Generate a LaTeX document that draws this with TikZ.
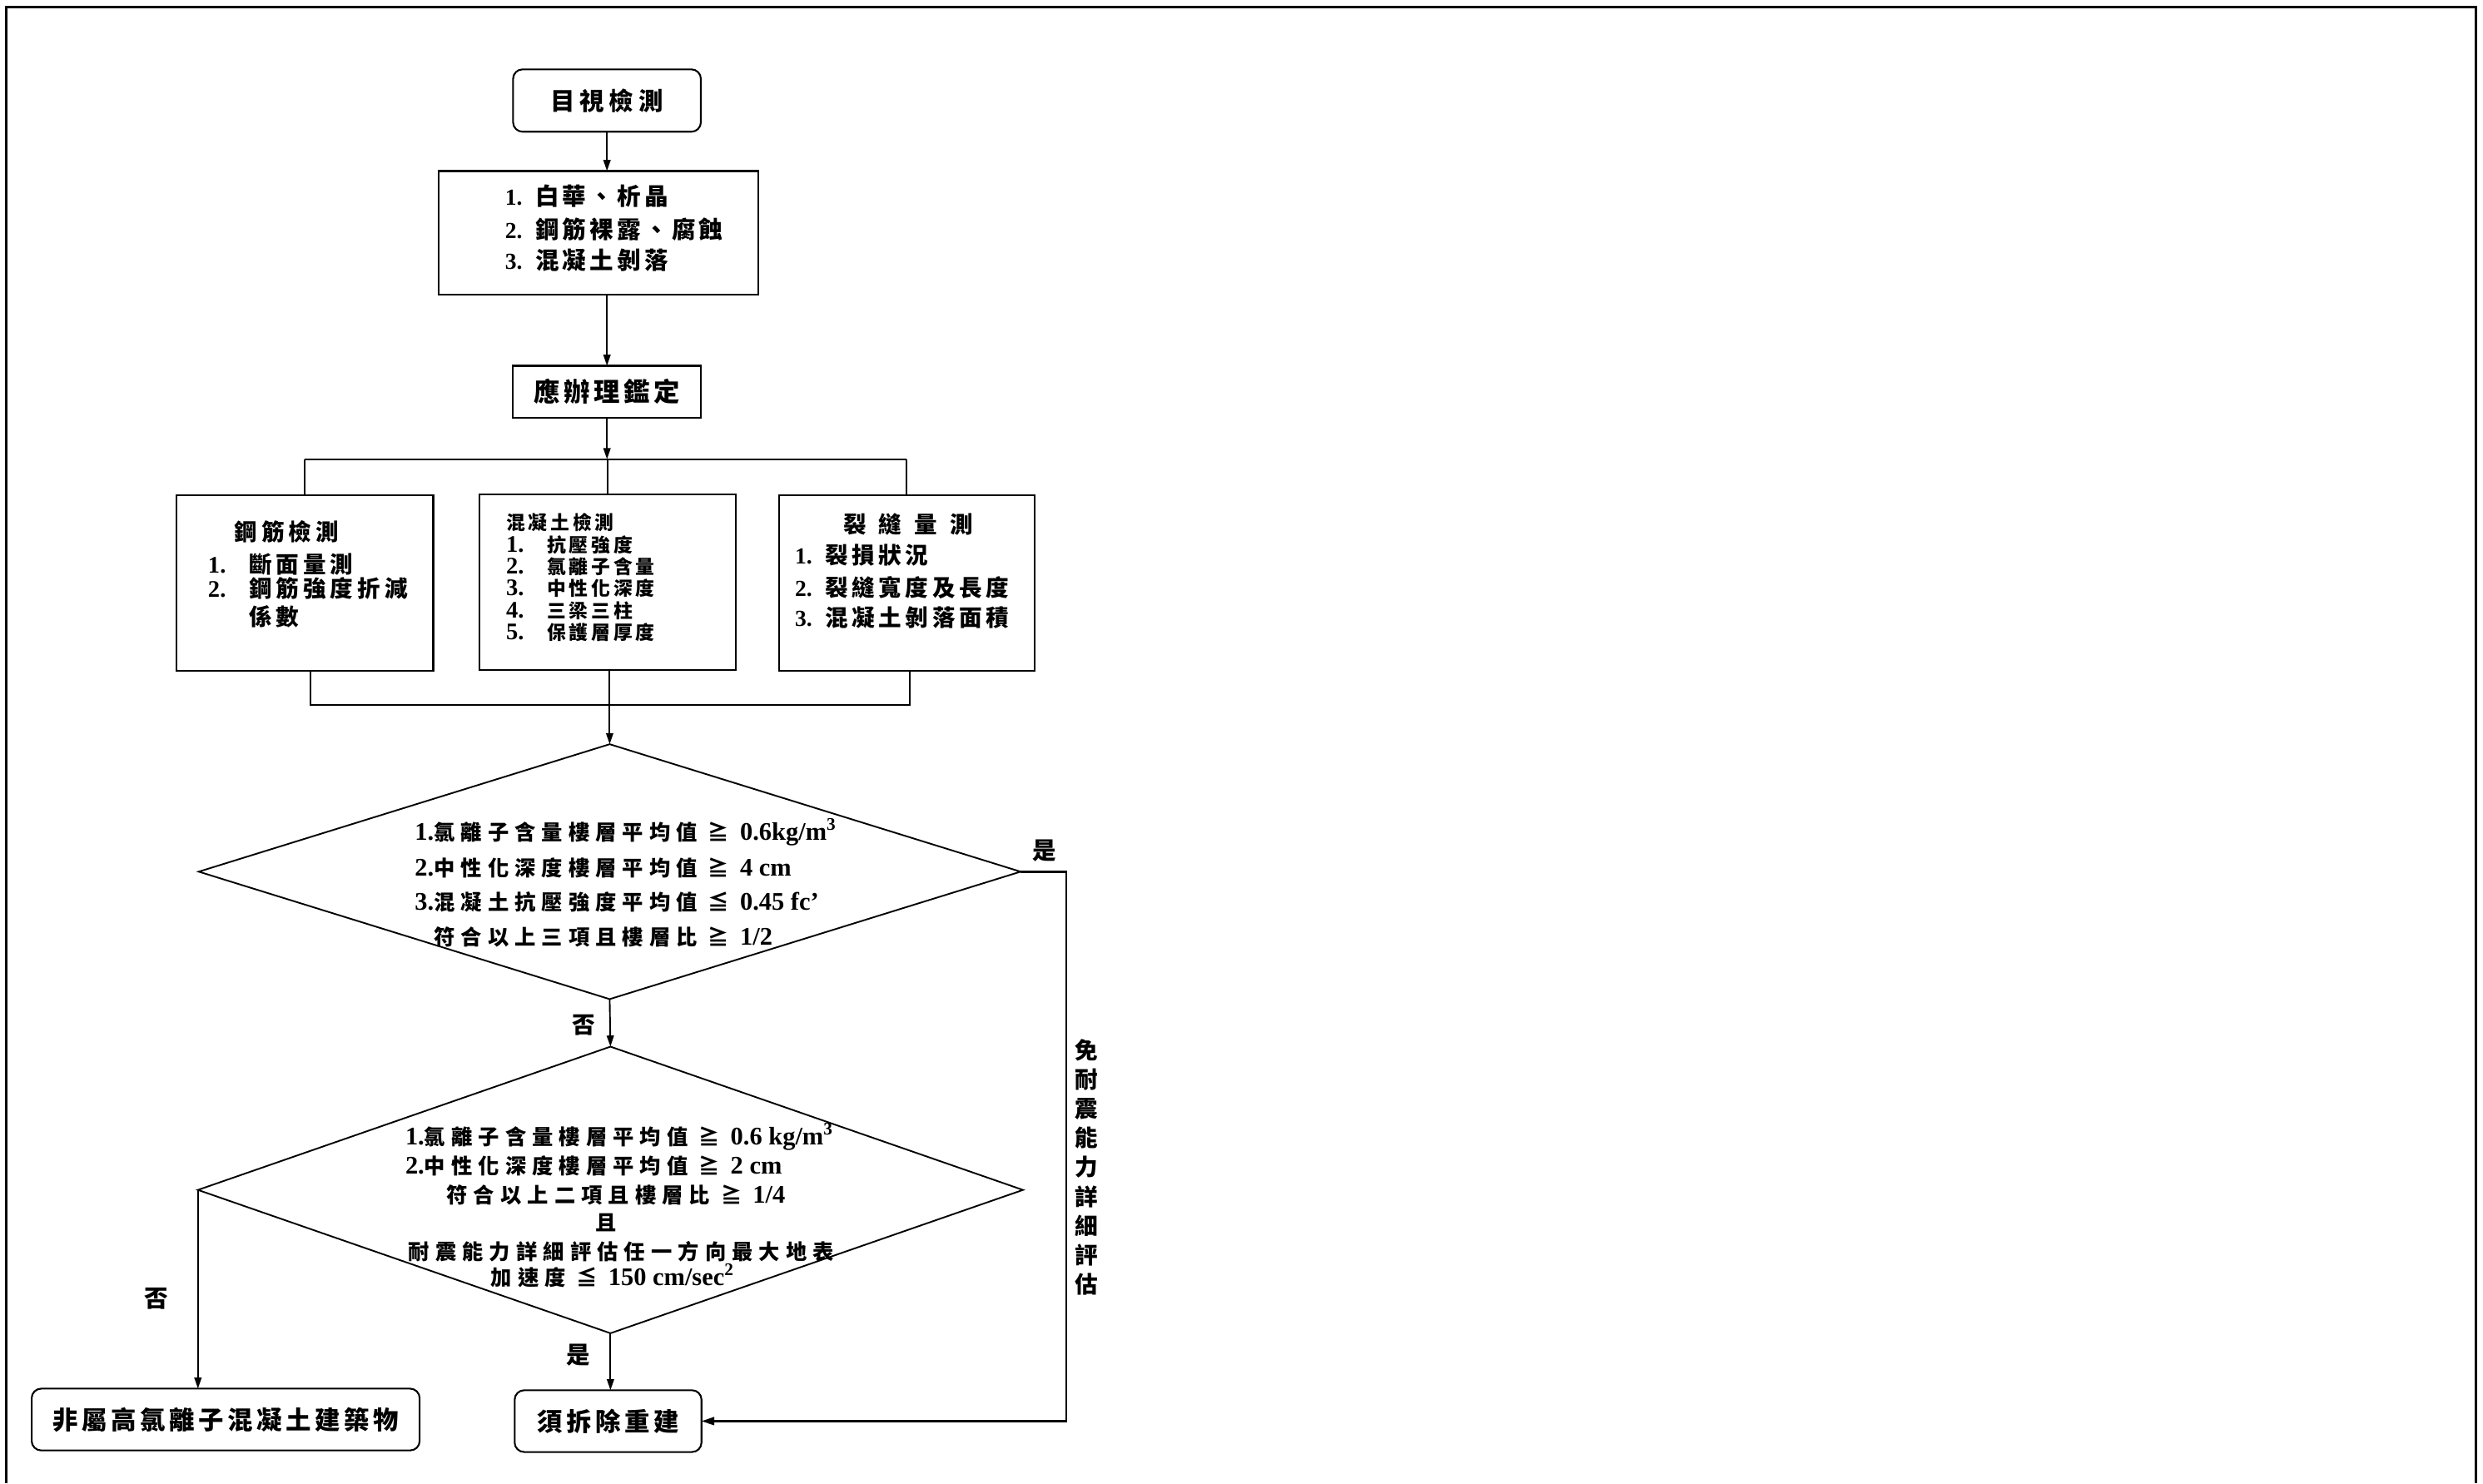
\documentclass[tikz,border=0pt]{standalone}
\usepackage{fontspec}
\setmainfont{Noto Sans CJK TC}
\newfontfamily\latf{Liberation Serif}
\usetikzlibrary{arrows.meta,shapes.geometric}
\newcommand{\cjs}[2]{\fontsize{#1}{#1}\selectfont\bfseries\addfontfeatures{LetterSpace=#2}}
\newcommand{\lab}[1]{{\latf\bfseries\fontsize{14.5}{14.5}\selectfont #1}}
\newcommand{\labd}[1]{{\latf\bfseries\fontsize{16}{16}\selectfont #1}}
\newcommand{\lan}[1]{{\latf\fontsize{15}{15}\selectfont #1}}
\begin{document}
\begin{tikzpicture}[x=1pt,y=1pt,
  every node/.style={inner sep=0pt, outer sep=0pt},
  box/.style={draw, line width=1.1pt},
  rbox/.style={box, rounded corners=6pt},
  dia/.style={draw, diamond, line width=1pt},
  txt/.style={inner sep=0pt, text height=0.76em, text depth=0pt, anchor=west},
  conn/.style={line width=1pt},
  arr/.style={line width=1pt, -{Triangle[length=7pt,width=4.5pt]}}]
\useasboundingbox (0,0) rectangle (1568,-936.7);
\draw[line width=1.6pt] (3.7,-936.7) -- (3.7,-4.4) -- (1563.6,-4.4) -- (1563.6,-936.7);

% top chain
\node[rbox, minimum width=118.6pt, minimum height=39.4pt, font=\cjs{15.5}{19}] (v1) at (383.3,-63.5) {目視檢測};
\node[box, minimum width=202pt, minimum height=78pt] (v2) at (378,-147) {};
\node[txt, font=\cjs{15}{15}] (v2a) at (319,-126) {\makebox[19pt][l]{\lab{1.}}白華、析晶};
\node[txt, font=\cjs{15}{15}] (v2b) at (319,-147) {\makebox[19pt][l]{\lab{2.}}鋼筋裸露、腐蝕};
\node[txt, font=\cjs{15}{15}] (v2c) at (319,-166.5) {\makebox[19pt][l]{\lab{3.}}混凝土剝落};
\node[box, minimum width=118.6pt, minimum height=33pt, font=\cjs{16.5}{15}] (v3) at (383.3,-247.5) {應辦理鑑定};
\draw[arr] (v1) -- (v1 |- v2.north);
\draw[arr] (v2.south -| v1) -- (v3);

% three boxes
\node[box, minimum width=162.4pt, minimum height=110.7pt] (b1) at (192.4,-368.15) {};
\node[box, minimum width=161.7pt, minimum height=111pt] (b2) at (383.65,-367.5) {};
\node[box, minimum width=161.5pt, minimum height=110.7pt] (b3) at (572.55,-368.15) {};
\coordinate (bus1) at (383.3,-290);
\draw[arr] (v3) -- (bus1);
\draw[conn] (b1.north |- bus1) -- (b3.north |- bus1);
\draw[conn] (b1.north |- bus1) -- (b1.north);
\draw[conn] (b2.north |- bus1) -- (b2.north);
\draw[conn] (b3.north |- bus1) -- (b3.north);

\node[txt, font=\cjs{14.5}{18}] (b1t) at (148,-337.8) {鋼筋檢測};
\node[txt, font=\cjs{14.5}{18}] (b1a) at (131.4,-358.3) {\makebox[25.9pt][l]{\lan{1.}}斷面量測};
\node[txt, font=\cjs{14.5}{18}] (b1b) at (131.4,-373.6) {\makebox[25.9pt][l]{\lan{2.}}鋼筋強度折減};
\node[txt, font=\cjs{14.5}{18}] (b1c) at (157.3,-391) {係數};

\node[txt, font=\cjs{12}{17}] (b2t) at (319.6,-331) {混凝土檢測};
\node[txt, font=\cjs{12}{17}] (b2a) at (319.6,-345) {\makebox[25.8pt][l]{\lan{1.}}抗壓強度};
\node[txt, font=\cjs{12}{17}] (b2b) at (319.6,-358.5) {\makebox[25.8pt][l]{\lan{2.}}氯離子含量};
\node[txt, font=\cjs{12}{17}] (b2c) at (319.6,-372.3) {\makebox[25.8pt][l]{\lan{3.}}中性化深度};
\node[txt, font=\cjs{12}{17}] (b2d) at (319.6,-386.7) {\makebox[25.8pt][l]{\lan{4.}}三梁三柱};
\node[txt, font=\cjs{12}{17}] (b2e) at (319.6,-400.4) {\makebox[25.8pt][l]{\lan{5.}}保護層厚度};

\node[txt, anchor=center, font=\cjs{14.5}{17}] (b3t) at (573.5,-332.9) {裂\hspace{8pt}縫\hspace{8pt}量\hspace{8pt}測};
\node[txt, font=\cjs{14.5}{17}] (b3a) at (502,-352.2) {\makebox[19pt][l]{\lab{1.}}裂損狀況};
\node[txt, font=\cjs{14.5}{17}] (b3b) at (502,-373) {\makebox[19pt][l]{\lab{2.}}裂縫寬度及長度};
\node[txt, font=\cjs{14.5}{17}] (b3c) at (502,-391.6) {\makebox[19pt][l]{\lab{3.}}混凝土剝落面積};

% diamonds
\node[dia, minimum width=519pt, minimum height=161pt] (d1) at (385,-550.5) {};
\node[dia, minimum width=521pt, minimum height=181pt] (d2) at (385.5,-751.5) {};
\coordinate (bus2) at (386.7,-445);
\draw[conn] ([xshift=3.6pt]b1.south) -- ([xshift=3.6pt]b1.south |- bus2) -- ([xshift=2pt]b3.south |- bus2) -- ([xshift=2pt]b3.south);
\draw[conn] (d1.north |- b2.south) -- (d1.north |- bus2);
\draw[arr] (d1.north |- bus2) -- (d1.north);

\node[txt, font=\cjs{13.3}{28}] (d1a) at (262,-527) {\labd{1.}氯離子含量樓層平均值 ≧ \labd{0.6kg/m\textsuperscript{3}}};
\node[txt, font=\cjs{13.3}{28}] (d1b) at (262,-549.3) {\labd{2.}中性化深度樓層平均值 ≧ \labd{4 cm}};
\node[txt, font=\cjs{13.3}{28}] (d1c) at (262,-571) {\labd{3.}混凝土抗壓強度平均值 ≦ \labd{0.45 fc’}};
\node[txt, font=\cjs{13.3}{28}] (d1d) at (274,-593) {符合以上三項且樓層比 ≧ \labd{1/2}};

\node[txt, font=\cjs{13.3}{28}] (d2a) at (256,-719) {\labd{1.}氯離子含量樓層平均值 ≧ \labd{0.6 kg/m\textsuperscript{3}}};
\node[txt, font=\cjs{13.3}{28}] (d2b) at (256,-737.6) {\labd{2.}中性化深度樓層平均值 ≧ \labd{2 cm}};
\node[txt, font=\cjs{13.3}{28}] (d2c) at (282,-756) {符合以上二項且樓層比 ≧ \labd{1/4}};
\node[txt, anchor=center, font=\cjs{13.3}{0}] (d2d) at (382.7,-773.6) {且};
\node[txt, font=\cjs{13.3}{28}] (d2e) at (258,-792) {耐震能力詳細評估任一方向最大地表};
\node[txt, font=\cjs{13.3}{28}] (d2f) at (310,-807.8) {加速度 ≦ \labd{150 cm/sec\textsuperscript{2}}};

% bottom boxes
\node[rbox, minimum width=245pt, minimum height=39pt, font=\cjs{16}{15}] (nb) at (142.5,-896.5) {非屬高氯離子混凝土建築物};
\node[rbox, minimum width=118pt, minimum height=39pt, font=\cjs{16}{15}] (ys) at (384,-897.5) {須拆除重建};

\draw[arr] (d1.south) -- (d2.north);
\draw[arr] (d2.west) -- (d2.west |- nb.north);
\draw[arr] (d2.south) -- (d2.south |- ys.north);
\coordinate (rc) at (673.3,-550.5);
\draw[line width=1.3pt, -{Triangle[length=8pt,width=5pt]}] (d1.east) -- (rc) -- (rc |- ys.east) -- (ys.east);

% labels
\node[font=\cjs{15}{0}] (lyes1) at (659.7,-537) {是};
\node[font=\cjs{14.5}{0}] (lno1) at (368.5,-647.4) {否};
\node[font=\cjs{15}{0}] (lyes2) at (365,-855.8) {是};
\node[font=\cjs{15}{0}] (lno2) at (98.6,-820) {否};
\node[font={\fontsize{14.5}{18.5}\selectfont\bfseries}, align=center] (vt) at (686,-737.1) {免\\耐\\震\\能\\力\\詳\\細\\評\\估};
\end{tikzpicture}
\end{document}
